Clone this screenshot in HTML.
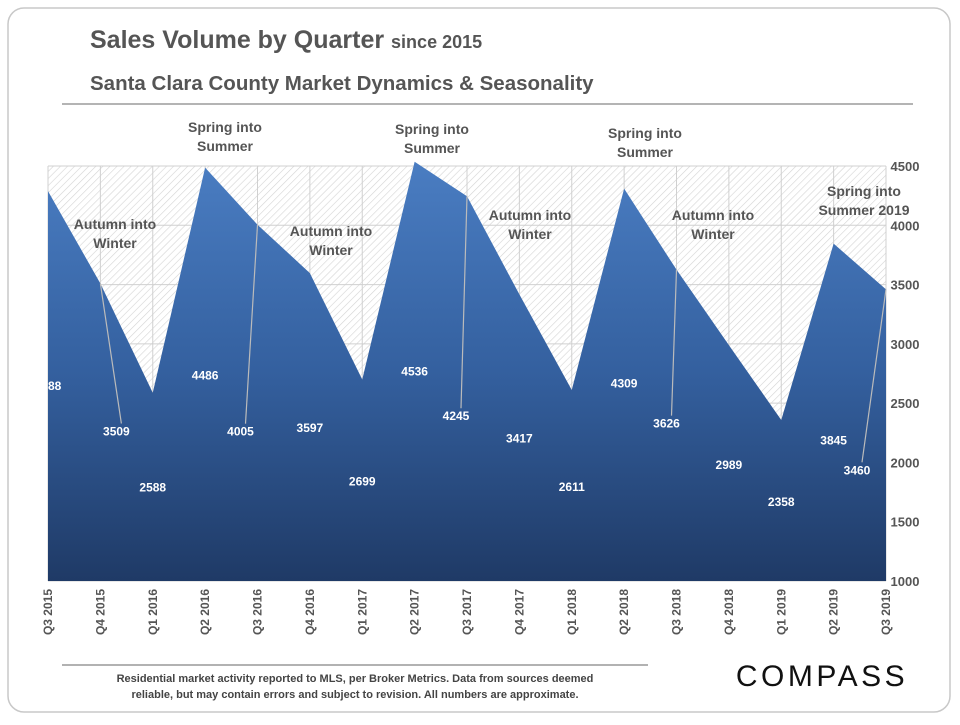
<!DOCTYPE html>
<html><head><meta charset="utf-8"><style>
body{margin:0;background:#fff;font-family:"Liberation Sans",sans-serif;}
svg text{font-family:"Liberation Sans",sans-serif;}
</style></head><body>
<svg id="c" width="960" height="720" viewBox="0 0 960 720" xmlns="http://www.w3.org/2000/svg">
<defs>
<pattern id="hatch" width="5" height="5" patternUnits="userSpaceOnUse" patternTransform="rotate(45)">
<rect width="5" height="5" fill="#fff"/><line x1="0" y1="0" x2="0" y2="5" stroke="#d4d4d4" stroke-width="1.2"/>
</pattern>
<linearGradient id="blue" x1="0" y1="0" x2="0" y2="1">
<stop offset="0" stop-color="#4a7dc2"/><stop offset="0.5" stop-color="#34609f"/><stop offset="1" stop-color="#1f3a66"/>
</linearGradient>
<clipPath id="pc"><rect x="48" y="100" width="860" height="500"/></clipPath>
</defs>
<rect x="8" y="8" width="942" height="704" rx="16" fill="#fff" stroke="#c8c8c8" stroke-width="1.5"/>
<text x="90" y="48" font-size="25" font-weight="bold" fill="#555">Sales Volume by Quarter <tspan font-size="18">since 2015</tspan></text>
<text x="90" y="90" font-size="20.5" font-weight="bold" fill="#555">Santa Clara County Market Dynamics &amp; Seasonality</text>
<line x1="62" y1="104" x2="913" y2="104" stroke="#888" stroke-width="1.2"/>
<g id="plot"></g>
<text x="355" y="682" font-size="11" font-weight="bold" fill="#444" text-anchor="middle">Residential market activity reported to MLS, per Broker Metrics. Data from sources deemed</text>
<text x="355" y="698" font-size="11" font-weight="bold" fill="#444" text-anchor="middle">reliable, but may contain errors and subject to revision. All numbers are approximate.</text>
<line x1="62" y1="665" x2="648" y2="665" stroke="#666" stroke-width="1"/>
<text x="822" y="686" font-size="30" fill="#111" text-anchor="middle" letter-spacing="3.5">COMPASS</text>
</svg>
<script>
const categories=["Q3 2015","Q4 2015","Q1 2016","Q2 2016","Q3 2016","Q4 2016","Q1 2017","Q2 2017","Q3 2017","Q4 2017","Q1 2018","Q2 2018","Q3 2018","Q4 2018","Q1 2019","Q2 2019","Q3 2019"];
const values=[4288,3509,2588,4486,4005,3597,2699,4536,4245,3417,2611,4309,3626,2989,2358,3845,3460];
const yTicks=[1000,1500,2000,2500,3000,3500,4000,4500];
const annotationTexts=[["Autumn into","Winter"],["Spring into","Summer"],["Autumn into","Winter"],["Spring into","Summer"],["Autumn into","Winter"],["Spring into","Summer"],["Autumn into","Winter"],["Spring into","Summer 2019"]];
const NS="http://www.w3.org/2000/svg";
const L=48,R=886,T=166,B=581;
const x=i=>L+i*(R-L)/(categories.length-1);
const y=v=>B-(v-1000)/(4500-1000)*(B-T);
// label layout offsets (dx, dy from point) and leader flags
const labelDx=[0,16,0,0,-17,0,0,0,-11,0,0,0,-10,0,0,0,-29];
const labelDy=[199,152,99,212,211,159,106,214,224,148,101,199,158,124,86,201,185];
const leader=[0,1,0,0,1,0,0,0,1,0,0,0,1,0,0,0,1];
const annPos=[[115,229],[225,132],[331,236],[432,134],[530,220],[645,138],[713,220],[864,196]];
const g=document.getElementById('plot');
function mk(tag,attrs,parent){const e=document.createElementNS(NS,tag);for(const k in attrs)e.setAttribute(k,attrs[k]);(parent||g).appendChild(e);return e;}
let bg=mk('rect',{x:L,y:T,width:R-L,height:B-T,fill:'url(#hatch)'});


yTicks.forEach(t=>{
 const ln=mk('line',{x1:L,x2:R,y1:y(t),y2:y(t),stroke:'#d0d0d0','stroke-width':1});
 
 
 const tx=mk('text',{x:905,y:y(t)+5,'font-size':13,'font-weight':'bold',fill:'#555','text-anchor':'middle'});
 tx.textContent=t;
 
 
});
categories.forEach((c,i)=>{
 const ln=mk('line',{x1:x(i),x2:x(i),y1:T,y2:B,stroke:'#d0d0d0','stroke-width':1});
 
 
 const tx=mk('text',{x:0,y:0,'font-size':12,'font-weight':'bold',fill:'#555','text-anchor':'end',transform:`translate(${x(i)+4},${B+8}) rotate(-90)`});
 tx.textContent=c;
 
 
});
let d=`M${x(0)},${B}`;values.forEach((v,i)=>d+=` L${x(i)},${y(v)}`);d+=` L${x(values.length-1)},${B} Z`;
const area=mk('path',{d:d,fill:'url(#blue)'});


const lg=mk('g',{'clip-path':'url(#pc)'});
values.forEach((v,i)=>{
 const lx=x(i)+labelDx[i], ly=y(v)+labelDy[i];
 if(leader[i]){
  const ln=mk('line',{x1:x(i),y1:y(v),x2:lx+5,y2:ly-12,stroke:'#bbb','stroke-width':1.2},lg);
  
  
 }
 const tx=mk('text',{x:lx,y:ly,'font-size':12,'font-weight':'bold',fill:'#fff','text-anchor':'middle'},lg);
 tx.textContent=v;
 
 
});
annotationTexts.forEach((a,j)=>{
 a.forEach((t,k)=>{
  const tx=mk('text',{x:annPos[j][0],y:annPos[j][1]+k*19,'font-size':14,'font-weight':'bold',fill:'#555','text-anchor':'middle'});
  tx.textContent=t;
  
  
 });
});
</script>
</body></html>
